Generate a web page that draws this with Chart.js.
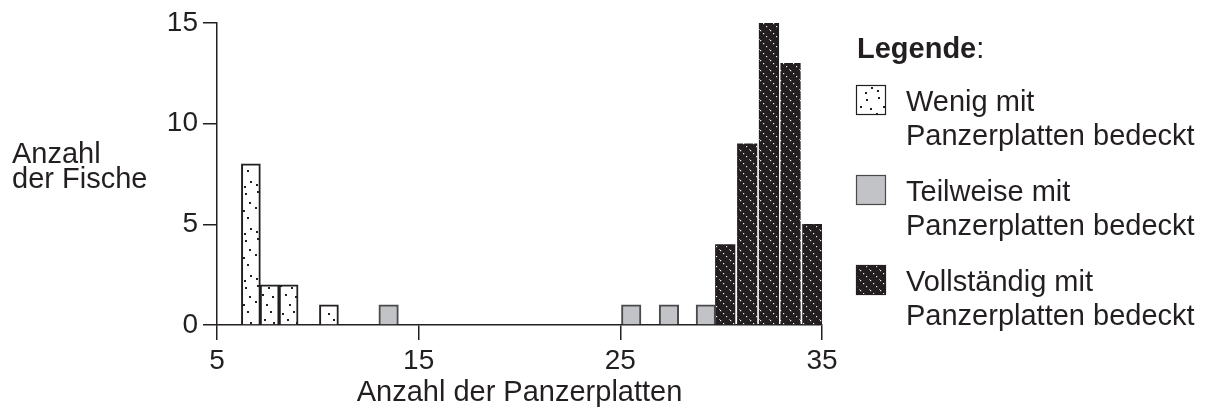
<!DOCTYPE html>
<html>
<head>
<meta charset="utf-8">
<script src="https://cdn.jsdelivr.net/npm/chart.js@4.4.1/dist/chart.umd.min.js"></script>
<style>
  body { margin: 0; background: #fff; }
  #wrap { width: 1209px; height: 410px; }
</style>
</head>
<body>
<div id="wrap"><canvas id="fische" width="1209" height="410"></canvas></div>
<script>
// Werte (Mitte der Balken, Anzahl der Fische)
var seriesNames = ['Wenig mit Panzerplatten bedeckt', 'Teilweise mit Panzerplatten bedeckt', 'Vollständig mit Panzerplatten bedeckt'];
var wenigPlatten = [6.68, 7.61, 8.55, 10.55];
var wenigFische = [8, 2, 2, 1];
var teilPlatten = [13.51, 25.54, 27.41, 29.24];
var teilFische = [1, 1, 1, 1];
var vollPlatten = [30.2, 31.29, 32.37, 33.44, 34.52];
var vollFische = [4, 9, 15, 13, 5];
var xTickLabels = [5, 15, 25, 35];
var yTickLabels = [0, 5, 10, 15];
var legendTitle = 'Legende';
var yTitleLines = ['Anzahl', 'der Fische'];
var xTitle = 'Anzahl der Panzerplatten';

var ink = '#231f20';
var fontFamily = "'Liberation Sans', Arial, sans-serif";

function toPoints(xs, ys) {
    return xs.map(function (x, i) {
        return { x: x, y: ys[i] };
    });
}

// lockeres Punktraster fuer "wenig"
function dotPattern() {
    var c = document.createElement('canvas');
    c.width = 23;
    c.height = 47;
    var g = c.getContext('2d');
    g.fillStyle = '#fff';
    g.fillRect(0, 0, 23, 47);
    g.fillStyle = ink;
    var dots = [[4, 3], [15, 5], [19, 14], [9, 12], [2, 19], [13, 22], [17, 29], [6, 31],
                [11, 37], [20, 40], [3, 43], [14, 45]];
    dots.forEach(function (d) {
        g.fillRect(d[0], d[1], 2, 2);
    });
    return g.createPattern(c, 'repeat');
}

// schwarz mit hellen gepunkteten Diagonalen fuer "vollstaendig"
function stripePattern() {
    var c = document.createElement('canvas');
    c.width = 10;
    c.height = 10;
    var g = c.getContext('2d');
    g.fillStyle = ink;
    g.fillRect(0, 0, 10, 10);
    g.fillStyle = '#f2f2f2';
    [0, 3, 6].forEach(function (p) {
        g.fillRect(p, p, 1.2, 1.2);
    });
    g.fillStyle = '#9a9a9a';
    g.fillRect(9, 9, 1, 1);
    return g.createPattern(c, 'repeat');
}

var textPlugin = {
    id: 'texteUndLegende',
    afterDraw: function (chart) {
        var ctx = chart.ctx;
        ctx.save();
        ctx.textBaseline = 'alphabetic';
        ctx.textAlign = 'left';
        ctx.fillStyle = ink;

        // Achsentitel links, waagerecht
        ctx.font = '29px ' + fontFamily;
        yTitleLines.forEach(function (t, j) {
            ctx.fillText(t, 12, 163 + j * 25);
        });

        // Legende
        ctx.font = 'bold 29px ' + fontFamily;
        ctx.fillText(legendTitle, 857, 58);
        var w = ctx.measureText(legendTitle).width;
        ctx.font = '29px ' + fontFamily;
        ctx.fillText(':', 857 + w, 58);

        chart.data.datasets.forEach(function (ds, i) {
            var top = 85 + i * 90;
            ctx.fillStyle = ds.backgroundColor;
            ctx.fillRect(856, top, 30, 30);
            ctx.strokeStyle = ds.borderColor;
            ctx.lineWidth = 1.2;
            ctx.strokeRect(856.5, top + 0.5, 29, 29);

            var lines = ds.label.replace(' mit ', ' mit\n').split('\n');
            ctx.fillStyle = ink;
            lines.forEach(function (t, j) {
                ctx.fillText(t, 906, top + 26 + j * 34);
            });
        });
        ctx.restore();
    }
};

var tickFont = { family: fontFamily, size: 28 };

new Chart(document.getElementById('fische'), {
    type: 'bar',
    data: {
        datasets: [
            {
                label: seriesNames[0],
                data: toPoints(wenigPlatten, wenigFische),
                backgroundColor: dotPattern(),
                borderColor: ink,
                borderWidth: 2,
                barThickness: 19
            },
            {
                label: seriesNames[1],
                data: toPoints(teilPlatten, teilFische),
                backgroundColor: '#c2c3c6',
                borderColor: '#4a4a4c',
                borderWidth: 2,
                barThickness: 19.5
            },
            {
                label: seriesNames[2],
                data: toPoints(vollPlatten, vollFische),
                backgroundColor: stripePattern(),
                borderColor: ink,
                borderWidth: 0,
                barThickness: 19.5
            }
        ]
    },
    options: {
        responsive: false,
        animation: false,
        layout: { padding: { left: 0, right: 387, top: 23, bottom: 0 } },
        datasets: { bar: { grouped: false } },
        plugins: {
            legend: { display: false },
            tooltip: { enabled: false }
        },
        scales: {
            x: {
                type: 'linear',
                min: 5,
                max: 35,
                offset: false,
                z: 1,
                afterBuildTicks: function (s) {
                    s.ticks = xTickLabels.map(function (v) { return { value: v }; });
                },
                afterFit: function (s) { s.height = 85; },
                grid: { display: true, offset: false, drawOnChartArea: false, tickLength: 15, color: ink, lineWidth: 1.5 },
                border: { display: true, color: ink, width: 1.5 },
                ticks: { font: tickFont, color: ink, padding: 4, maxRotation: 0, autoSkip: false },
                title: {
                    display: true,
                    text: xTitle,
                    color: ink,
                    font: { family: fontFamily, size: 29 },
                    padding: { top: 0, bottom: 0 }
                }
            },
            y: {
                min: 0,
                max: 15,
                afterBuildTicks: function (s) {
                    s.ticks = yTickLabels.map(function (v) { return { value: v }; });
                },
                afterFit: function (s) { s.width = 217; },
                grid: { display: true, drawOnChartArea: false, tickLength: 14, color: ink, lineWidth: 1.5 },
                border: { display: true, color: ink, width: 1.5 },
                ticks: { font: tickFont, color: ink, padding: 5 }
            }
        }
    },
    plugins: [textPlugin]
});
</script>
</body>
</html>
